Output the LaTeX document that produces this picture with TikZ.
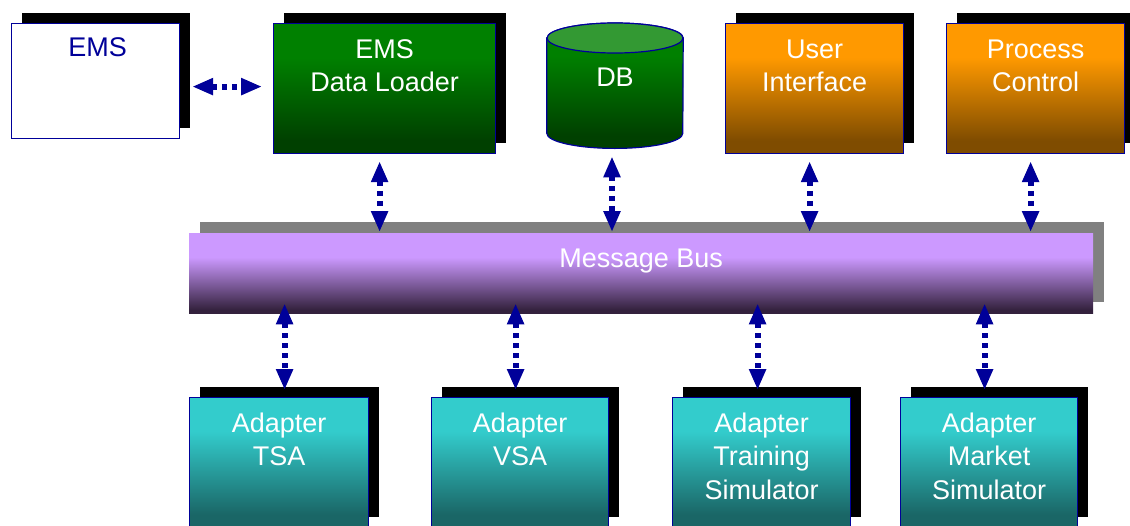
\documentclass[tikz,border=0pt]{standalone}
\usepackage{fontspec}
\setmainfont{Liberation Sans}
\usetikzlibrary{arrows.meta,shadows,calc}
\definecolor{navy}{HTML}{000099}
\definecolor{gtop}{HTML}{008000}
\definecolor{gbot}{HTML}{004000}
\definecolor{otop}{HTML}{FF9900}
\definecolor{obot}{HTML}{7F4C00}
\definecolor{ttop}{HTML}{33CCCC}
\definecolor{tbot}{HTML}{1A6666}
\definecolor{ptop}{HTML}{CC99FF}
\definecolor{pbot}{HTML}{33213D}
\definecolor{dbtop}{HTML}{339933}
\definecolor{busshadow}{HTML}{808080}
\pgfdeclareverticalshading{gshade}{100bp}{color(0bp)=(gbot); color(30bp)=(gbot); color(62bp)=(gtop); color(100bp)=(gtop)}
\pgfdeclareverticalshading{oshade}{100bp}{color(0bp)=(obot); color(30bp)=(obot); color(62bp)=(otop); color(100bp)=(otop)}
\pgfdeclareverticalshading{tshade}{100bp}{color(0bp)=(tbot); color(30bp)=(tbot); color(62bp)=(ttop); color(100bp)=(ttop)}
\pgfdeclareverticalshading{pshade}{100bp}{color(0bp)=(pbot); color(27bp)=(pbot); color(60bp)=(ptop); color(100bp)=(ptop)}
\tikzset{
  box/.style={draw=navy, line width=1.2pt, inner sep=0pt, anchor=north west,
    drop shadow={shadow xshift=10.5pt, shadow yshift=11pt, fill=black, opacity=1}},
  lbl/.style={anchor=base, align=center, inner sep=0pt, text=white,
    font=\fontsize{27pt}{33.5pt}\selectfont},
  biarrow/.style={draw=navy, line width=6pt, dash pattern=on 5pt off 5pt,
    {Triangle[width=16pt,length=21pt]}-{Triangle[width=16pt,length=21pt]}}
}
\begin{document}
\begin{tikzpicture}[x=1pt,y=1pt]
\useasboundingbox (0,0) rectangle (1130,-525);
% top row
\node[box, fill=white, minimum width=168pt, minimum height=115pt] (ems) at (11,-23) {};
\node[box, shading=gshade, minimum width=222pt, minimum height=130pt] (dl) at (273,-23) {};
\node[box, shading=oshade, minimum width=178pt, minimum height=130pt] (ui) at (725,-23) {};
\node[box, shading=oshade, minimum width=178pt, minimum height=130pt] (pc) at (946,-23) {};
% database
\node[inner sep=0pt, minimum width=136pt, minimum height=125pt, anchor=north] (db) at (615,-23) {};
\shade[shading=gshade, draw=navy, line width=1.2pt]
  ($(db.north west)+(0,-15)$) -- ($(db.south west)+(0,15)$)
  arc[start angle=180, end angle=360, x radius=68pt, y radius=15pt]
  -- ($(db.north east)+(0,-15)$)
  arc[start angle=0, end angle=180, x radius=68pt, y radius=15pt] -- cycle;
\filldraw[fill=dbtop, draw=navy, line width=1.2pt] ($(db.north)+(0,-15)$) ellipse[x radius=68pt, y radius=15pt];
% bus
\node[inner sep=0pt, anchor=north west, shading=pshade, minimum width=904pt, minimum height=80pt,
  drop shadow={shadow xshift=11pt, shadow yshift=11pt, fill=busshadow, opacity=1}] (bus) at (189,-233) {};
% adapters
\node[box, shading=tshade, minimum width=179pt, minimum height=130pt] (tsa) at (189,-397) {};
\node[box, shading=tshade, minimum width=177pt, minimum height=130pt] (vsa) at (431,-397) {};
\node[box, shading=tshade, minimum width=178pt, minimum height=130pt] (trn) at (672,-397) {};
\node[box, shading=tshade, minimum width=177pt, minimum height=130pt] (mkt) at (900,-397) {};
% labels (anchor=base is the last line's baseline)
\node[lbl, text=navy] (tems) at ($(ems.north)+(2,-33)$) {EMS};
\node[lbl] (tdl) at ($(dl.north)+(0,-68.5)$) {EMS\\Data Loader};
\node[lbl] (tdb) at ($(db.north)+(0,-63)$) {DB};
\node[lbl] (tui) at ($(ui.north)+(0,-68.5)$) {User\\Interface};
\node[lbl] (tpc) at ($(pc.north)+(0,-68.5)$) {Process\\Control};
\node[lbl] (tbus) at ($(bus.north)+(0,-34)$) {Message Bus};
\node[lbl] (ttsa) at ($(tsa.north)+(0,-68.5)$) {Adapter\\TSA};
\node[lbl] (tvsa) at ($(vsa.north)+(0,-68.5)$) {Adapter\\VSA};
\node[lbl] (ttrn) at ($(trn.north)+(0,-102)$) {Adapter\\Training\\Simulator};
\node[lbl] (tmkt) at ($(mkt.north)+(0,-102)$) {Adapter\\Market\\Simulator};
% connectors
\draw[biarrow] ($(ems.east)+(12,-5.5)$) -- ($(ems.east -| dl.west)+(-11,-5.5)$);
\draw[biarrow] ($(dl.south)+(-5,-7)$) -- ($(bus.north -| dl.south)+(-5,1)$);
\draw[biarrow] ($(db.south)+(-3,-8)$) -- ($(bus.north -| db.south)+(-3,1)$);
\draw[biarrow] ($(ui.south)+(-5,-7)$) -- ($(bus.north -| ui.south)+(-5,1)$);
\draw[biarrow] ($(pc.south)+(-5,-7)$) -- ($(bus.north -| pc.south)+(-5,1)$);
\draw[biarrow] ($(bus.south -| tsa.north)+(5.5,10)$) -- ($(tsa.north)+(5.5,7)$);
\draw[biarrow] ($(bus.south -| vsa.north)+(-4.5,10)$) -- ($(vsa.north)+(-4.5,7)$);
\draw[biarrow] ($(bus.south -| trn.north)+(-4,10)$) -- ($(trn.north)+(-4,7)$);
\draw[biarrow] ($(bus.south -| mkt.north)+(-4.5,10)$) -- ($(mkt.north)+(-4.5,7)$);
\end{tikzpicture}
\end{document}
